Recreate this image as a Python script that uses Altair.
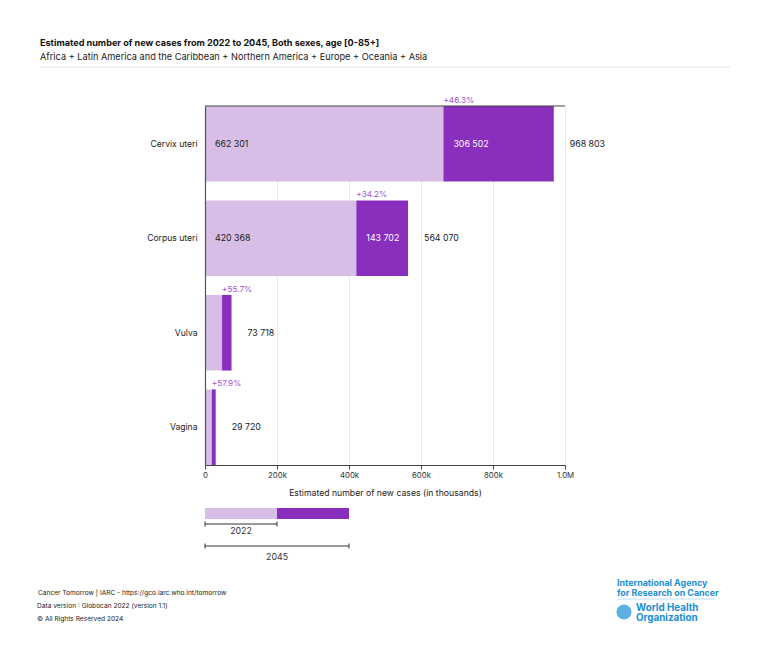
import altair as alt
import pandas as pd

# Cancer sites and estimated new cases, 2022 and projected 2045
sites = ["Cervix uteri", "Corpus uteri", "Vulva", "Vagina"]
cases_2022 = [662301, 420368, 47347, 18822]
cases_2045 = [968803, 564070, 73718, 29720]
x_ticks = [0, 200000, 400000, 600000, 800000, 1000000]

LIGHT = "#d6bee6"
DARK = "#8a2ebd"
PCT = "#a152d4"
FONT = "Inter"


def spaced(v):
    return f"{v:,}".replace(",", " ")


df = pd.DataFrame({"site": sites, "c2022": cases_2022, "c2045": cases_2045})
df["zero"] = 0
df["inc"] = df["c2045"] - df["c2022"]
df["lab2022"] = df["c2022"].map(spaced)
df["labinc"] = df["inc"].map(spaced)
df["labtot"] = df["c2045"].map(spaced)
df["labpct"] = ["+{:.1f}%".format(100 * i / s) for i, s in zip(df["inc"], df["c2022"])]

# legend sample: 2022 segment then the added 2045 segment
legend_parts = ["2022", "2045"]
legend_start = [0, 200000]
legend_end = [200000, 400000]
legend_df = pd.DataFrame({"start": legend_start, "end": legend_end, "part": legend_parts})
one = pd.DataFrame({"k": [0]})

x_scale = alt.Scale(domain=[0, 1000000], nice=False)
y_enc = alt.Y(
    "site:N",
    sort=sites,
    scale=alt.Scale(paddingInner=0.2, paddingOuter=0),
    axis=alt.Axis(title=None, ticks=False, domainColor="#555", domainWidth=1.2, zindex=1,
                  labelPadding=8, labelFontSize=8.6, labelColor="#222", labelFont=FONT),
)

base = alt.Chart(df)

bars_2022 = base.mark_bar(color=LIGHT).encode(
    x=alt.X("zero:Q", scale=x_scale,
            axis=alt.Axis(values=x_ticks, grid=True, gridColor="#e8e8e8", labelFlush=False,
                          labelExpr="datum.value == 0 ? '0' : format(datum.value, '.2s')",
                          title="Estimated number of new cases (in thousands)",
                          titleFontWeight="normal", titleFontSize=8.7, titleFont=FONT,
                          titleColor="#222", titlePadding=10,
                          labelFontSize=7.8, labelColor="#333", labelFont=FONT,
                          domainColor="#444", tickColor="#444", tickSize=4)),
    x2="c2022:Q",
    y=y_enc,
)

bars_inc = base.mark_bar(color=DARK).encode(x="c2022:Q", x2="c2045:Q", y=y_enc)

big = base.transform_filter("datum.c2022 >= 100000")

lab_2022 = big.mark_text(align="left", baseline="middle", dx=10, fontSize=8.8,
                         color="#222", font=FONT).encode(x="zero:Q", y=y_enc, text="lab2022:N")
lab_inc = big.mark_text(align="left", baseline="middle", dx=10, fontSize=8.8,
                        color="white", font=FONT).encode(x="c2022:Q", y=y_enc, text="labinc:N")
lab_tot = base.mark_text(align="left", baseline="middle", dx=16, fontSize=8.8,
                         color="#222", font=FONT).encode(x="c2045:Q", y=y_enc, text="labtot:N")
lab_pct = base.mark_text(align="left", baseline="bottom", dy=-1, fontSize=8.2,
                         color=PCT, font=FONT).encode(
    x="c2022:Q", y=alt.Y("site:N", sort=sites, bandPosition=0), text="labpct:N")

top_line = alt.Chart(one).mark_rule(color="#444", strokeWidth=1.2).encode(
    x=alt.value(0), x2=alt.value(360), y=alt.value(0))

# legend below the axis, drawn on the same x scale
leg = alt.Chart(legend_df)
leg_bars = leg.mark_bar().encode(
    x="start:Q", x2="end:Q", y=alt.value(402), y2=alt.value(413),
    color=alt.Color("part:N", scale=alt.Scale(domain=legend_parts, range=[LIGHT, DARK]), legend=None),
)

bracket_layers = []
for part, ypix, ytxt in zip(legend_parts, [418, 440], [424.5, 451]):
    b = leg.transform_filter(alt.datum.part == part).transform_calculate(
        zero="0", mid="datum.end / 2")
    bracket_layers.append(b.mark_rule(color="#333").encode(
        x="zero:Q", x2="end:Q", y=alt.value(ypix)))
    bracket_layers.append(b.mark_rule(color="#333").encode(
        x="zero:Q", y=alt.value(ypix - 2.5), y2=alt.value(ypix + 2.5)))
    bracket_layers.append(b.mark_rule(color="#333").encode(
        x="end:Q", y=alt.value(ypix - 2.5), y2=alt.value(ypix + 2.5)))
    bracket_layers.append(b.mark_text(fontSize=8.8, color="#333", font=FONT, baseline="middle").encode(
        x="mid:Q", y=alt.value(ytxt), text="part:N"))


def note(text, x, y, size=7.5, weight="normal", color="#222", align="left"):
    return alt.Chart(one).mark_text(align=align, baseline="middle", fontSize=size,
                                    fontWeight=weight, color=color, font=FONT).encode(
        x=alt.value(x), y=alt.value(y), text=alt.value(text))


title = note("Estimated number of new cases from 2022 to 2045, Both sexes, age [0-85+]",
             -165, -63, size=9.1, weight="bold", color="#111")
subtitle = note("Africa + Latin America and the Caribbean + Northern America + Europe + Oceania + Asia",
                -165, -49, size=9.2, color="#222")
sep = alt.Chart(one).mark_rule(color="#e3e3e3").encode(
    x=alt.value(-165), x2=alt.value(525), y=alt.value(-39))

foot1 = note("Cancer Tomorrow | IARC  - https://gco.iarc.who.int/tomorrow", -167, 487, size=6.6)
foot2 = note("Data version : Globocan 2022 (version 1.1)", -168, 500, size=6.6)
foot3 = note("\u00a9 All Rights Reserved 2024", -168, 513, size=6.6)

BLUE = "#1a8fd3"
iarc1 = note("International Agency", 412, 477, size=8.9, weight="bold", color=BLUE)
iarc2 = note("for Research on Cancer", 412, 487, size=8.9, weight="bold", color=BLUE)
logo_sep = alt.Chart(one).mark_rule(color="#bfe0f3").encode(
    x=alt.value(412), x2=alt.value(510), y=alt.value(493))
emblem = alt.Chart(one).mark_point(filled=True, color=BLUE, size=230, shape="circle").encode(
    x=alt.value(419), y=alt.value(506))
who1 = note("World Health", 431, 502, size=9.8, weight="bold", color=BLUE)
who2 = note("Organization", 431, 512, size=9.8, weight="bold", color=BLUE)

chart = alt.layer(
    bars_2022, bars_inc, lab_2022, lab_inc, lab_tot, lab_pct, top_line,
    leg_bars, *bracket_layers,
    title, subtitle, sep, foot1, foot2, foot3,
    iarc1, iarc2, logo_sep, emblem, who1, who2,
).properties(
    width=360, height=359,
    autosize=alt.AutoSizeParams(type="none"),
    padding={"left": 205, "top": 106, "right": 203, "bottom": 194},
    background="white",
).configure_view(stroke=None)

chart.save("out.html", embed_options={"renderer": "svg", "actions": False})
